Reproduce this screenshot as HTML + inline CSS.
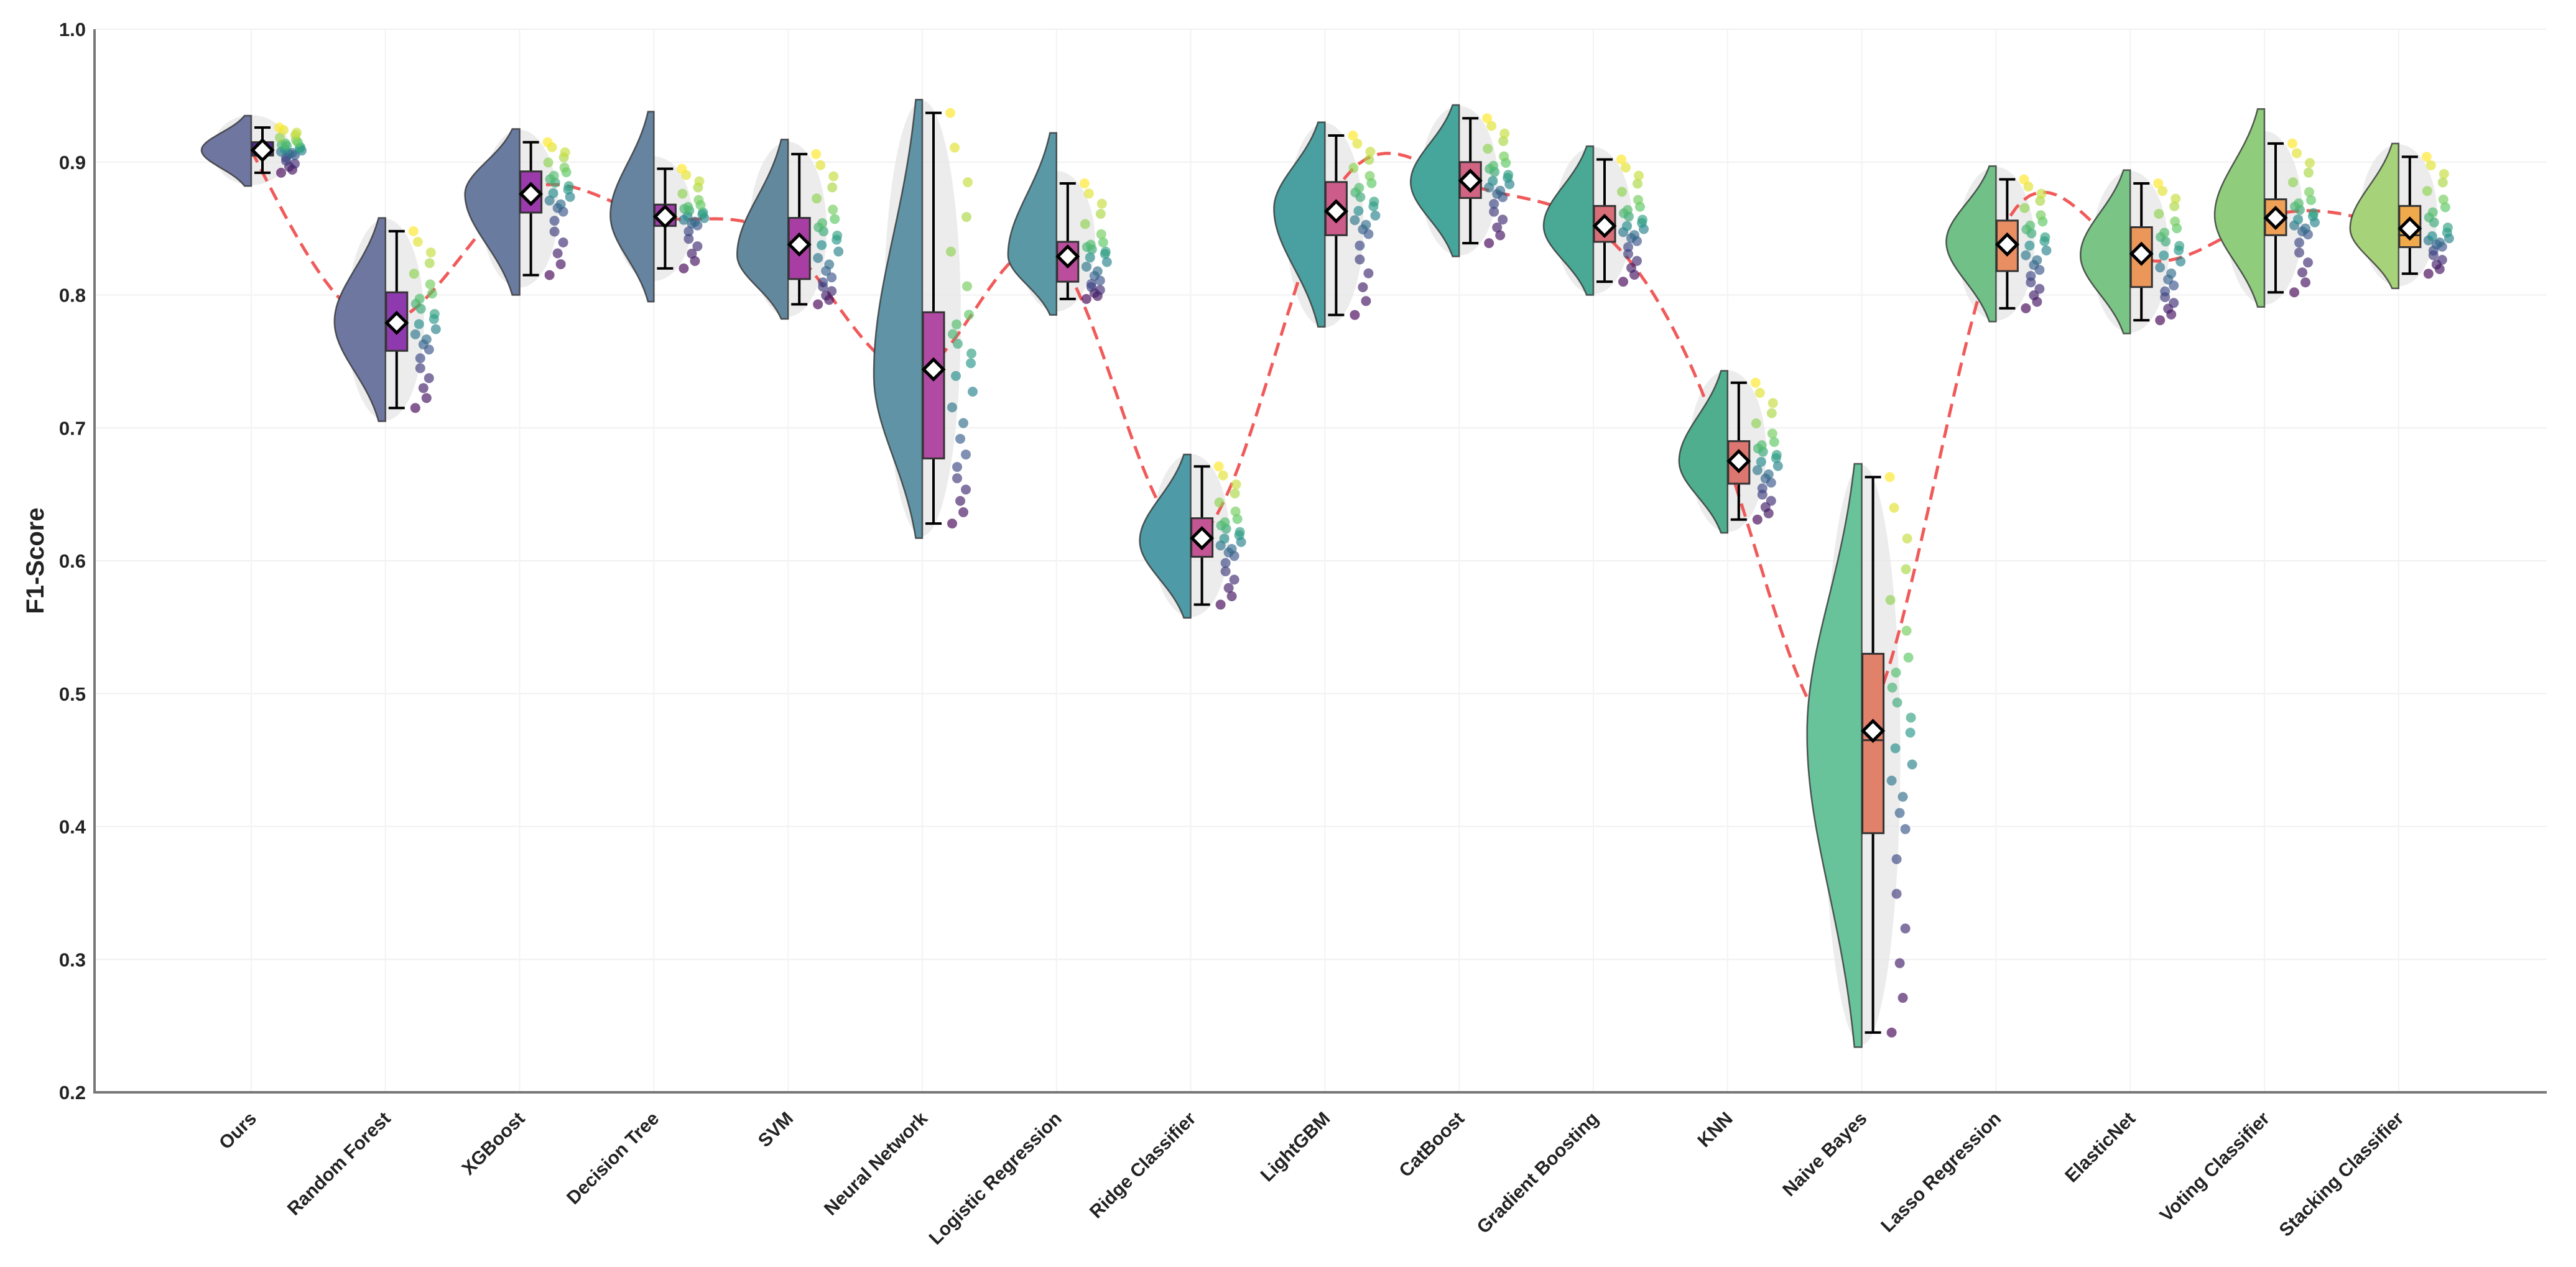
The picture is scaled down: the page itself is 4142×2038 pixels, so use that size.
<!DOCTYPE html>
<html><head><meta charset="utf-8"><style>
body{margin:0;background:#fff}
svg{display:block}
text{font-family:"Liberation Sans","DejaVu Sans",sans-serif;font-weight:bold;fill:#222}
</style></head><body>
<svg id="chart" width="4142" height="2038" viewBox="0 0 4142 2038" xmlns="http://www.w3.org/2000/svg"></svg>
<script>
const categories=["Ours","Random Forest","XGBoost","Decision Tree","SVM","Neural Network","Logistic Regression","Ridge Classifier","LightGBM","CatBoost","Gradient Boosting","KNN","Naive Bayes","Lasso Regression","ElasticNet","Voting Classifier","Stacking Classifier"];
const means=[0.909,0.779,0.876,0.859,0.838,0.744,0.829,0.617,0.863,0.886,0.852,0.675,0.472,0.838,0.831,0.858,0.850];
const medians=[0.910,0.780,0.878,0.860,0.840,0.745,0.830,0.618,0.865,0.887,0.853,0.676,0.465,0.839,0.832,0.858,0.845];
const q1s=[0.905,0.758,0.862,0.852,0.812,0.677,0.810,0.603,0.845,0.873,0.840,0.658,0.395,0.818,0.806,0.845,0.836];
const q3s=[0.915,0.802,0.893,0.868,0.858,0.787,0.840,0.632,0.885,0.900,0.867,0.690,0.530,0.856,0.851,0.872,0.867];
const whiskLo=[0.892,0.715,0.815,0.820,0.793,0.628,0.797,0.567,0.785,0.839,0.810,0.631,0.245,0.790,0.781,0.802,0.816];
const whiskHi=[0.926,0.848,0.915,0.895,0.906,0.937,0.884,0.671,0.920,0.933,0.902,0.734,0.663,0.887,0.884,0.914,0.904];
const violinMin=[0.882,0.705,0.800,0.795,0.782,0.617,0.785,0.557,0.776,0.829,0.800,0.621,0.234,0.780,0.771,0.791,0.805];
const violinMax=[0.935,0.858,0.925,0.938,0.917,0.947,0.922,0.680,0.930,0.943,0.912,0.743,0.673,0.897,0.894,0.940,0.914];
const violinPeak=[0.909,0.780,0.876,0.860,0.830,0.740,0.830,0.615,0.865,0.885,0.852,0.675,0.470,0.840,0.830,0.860,0.850];
const violinWidth=[80,82,88,70,82,78,78,82,82,78,80,78,88,80,80,80,78];
const yTicks=[0.2,0.3,0.4,0.5,0.6,0.7,0.8,0.9,1.0];
const violinColors=["#6f76a0","#6e77a0","#6a7ba0","#6683a0","#62889e","#5f93a5","#5a98a6","#4e9aa6","#4a9fa0","#46a69c","#4aa994","#4eae8e","#68c29a","#70c088","#7ac485","#8fcc7c","#a6d27a"];
const boxColors=["#5a2a9a","#8e3aae","#9b3aaa","#9f3da9","#a83ea4","#b14aa2","#bb4e9c","#c45594","#cc5c8a","#d06482","#d86e78","#dc7670","#e2816a","#e88e62","#eb975a","#eea056","#f0aa4c"];

const L=152,R=4095,T=47,B=1757;
const x0=404,dx=215.8;
const X=i=>x0+i*dx;
const Y=v=>T+(1-v)/0.8*(B-T);
const svg=document.getElementById('chart');
const NS='http://www.w3.org/2000/svg';
function mk(tag,attrs,parent){const e=document.createElementNS(NS,tag);for(const k in attrs)e.setAttribute(k,attrs[k]);(parent||svg).appendChild(e);return e;}
function viridis(t){const s=[[68,1,84],[59,82,139],[33,145,140],[94,201,98],[253,231,37]];t=Math.max(0,Math.min(1,t))*4;const i=Math.min(3,Math.floor(t)),f=t-i;const c=s[i].map((a,k)=>Math.round(a+(s[i+1][k]-a)*f));return `rgb(${c})`;}

yTicks.forEach(v=>{const g=mk('line',{x1:L,x2:R,y1:Y(v),y2:Y(v),stroke:'#f0f0f0','stroke-width':2});
});
categories.forEach((c,i)=>{const g=mk('line',{x1:X(i),x2:X(i),y1:T,y2:B,stroke:'#f3f3f3','stroke-width':2});
});

categories.forEach((c,i)=>{const cy=Y((whiskHi[i]+whiskLo[i])/2),ry=(Y(whiskLo[i])-Y(whiskHi[i]))/2+20;
const e=mk('ellipse',{cx:X(i),cy:cy,rx:62,ry:ry,fill:'#e6e6e6','fill-opacity':0.75});
});

// natural cubic spline through means
(function(){const n=means.length,ys=means.map(Y),h=dx;
const a=new Array(n).fill(0),b=new Array(n).fill(0),c=new Array(n).fill(0),d=new Array(n).fill(0),M=new Array(n).fill(0);
for(let i=1;i<n-1;i++){a[i]=1;b[i]=4;c[i]=1;d[i]=6*(ys[i+1]-2*ys[i]+ys[i-1])/(h*h);}
const cp=new Array(n).fill(0),dp=new Array(n).fill(0);
for(let i=1;i<n-1;i++){const den=b[i]-a[i]*cp[i-1];cp[i]=c[i]/den;dp[i]=(d[i]-a[i]*dp[i-1])/den;}
for(let i=n-2;i>=1;i--){M[i]=dp[i]-cp[i]*M[i+1];}
let dd='';
for(let i=0;i<n-1;i++){for(let s=0;s<=20;s++){if(i>0&&s===0)continue;const t=s/20*h,A=(h-t)/h,Bq=t/h;
const y=A*ys[i]+Bq*ys[i+1]+((A*A*A-A)*M[i]+(Bq*Bq*Bq-Bq)*M[i+1])*h*h/6;
dd+=(dd?' L':'M')+(X(i)+t).toFixed(1)+','+y.toFixed(1);}}
const l=mk('path',{d:dd,fill:'none',stroke:'#f04848','stroke-opacity':0.9,'stroke-width':5,'stroke-dasharray':'22,12'});
})();

categories.forEach((c,i)=>{
  const cx=X(i);
  const g=mk('g',{});
  
  
  const n=60;let pts=[];
  for(let k=0;k<=n;k++){const v=violinMax[i]-(violinMax[i]-violinMin[i])*k/n;
    const s=(v>violinPeak[i]?(violinMax[i]-violinPeak[i]):(violinPeak[i]-violinMin[i]))/2.0||0.01;
    const w=violinWidth[i]*Math.exp(-0.5*Math.pow((v-violinPeak[i])/s,2));
    pts.push(`${cx-w},${Y(v)}`);}
  const vp=mk('path',{d:`M${cx},${Y(violinMax[i])} L${pts.join(' L')} L${cx},${Y(violinMin[i])} Z`,fill:violinColors[i],stroke:'#333','stroke-width':2.5,'stroke-opacity':0.8},g);
  
  const qs=[whiskLo[i],q1s[i],medians[i],q3s[i],whiskHi[i]];
  for(let k=0;k<24;k++){const t=k/23*4,j=Math.min(3,Math.floor(t)),f=t-j;const v=qs[j]+(qs[j+1]-qs[j])*f;
    const jx=cx+45+((k*k*7+k*11+3)%37);
    const pt=mk('circle',{cx:jx,cy:Y(v),r:8,fill:viridis(k/23),'fill-opacity':0.65},g);
    }
  const wx=cx+18;
  const wl=mk('line',{x1:wx,x2:wx,y1:Y(whiskHi[i]),y2:Y(whiskLo[i]),stroke:'#000','stroke-width':4},g);
  
  [whiskHi[i],whiskLo[i]].forEach(v=>{const cap=mk('line',{x1:wx-13,x2:wx+13,y1:Y(v),y2:Y(v),stroke:'#000','stroke-width':4},g);
    });
  const bx=mk('rect',{x:cx+1,y:Y(q3s[i]),width:34,height:Y(q1s[i])-Y(q3s[i]),fill:boxColors[i],stroke:'#333','stroke-width':3},g);
  
  const md=mk('line',{x1:cx+1,x2:cx+35,y1:Y(medians[i]),y2:Y(medians[i]),stroke:'#333','stroke-width':3},g);
  
  const my=Y(means[i]);
  const dm=mk('path',{d:`M${wx-16},${my} L${wx},${my-16} L${wx+16},${my} L${wx},${my+16} Z`,fill:'#fff',stroke:'#000','stroke-width':5},g);
  
  const tl=mk('text',{x:0,y:0,'font-size':30,'text-anchor':'end',transform:`translate(${cx+10},${B+44}) rotate(-45)`});
  tl.textContent=c;
  
});

const ax=mk('path',{d:`M${L},${T} L${L},${B} L${R},${B}`,fill:'none',stroke:'#777','stroke-width':4});

yTicks.forEach(v=>{const t=mk('text',{x:L-14,y:Y(v)+11,'font-size':31,'text-anchor':'end'});t.textContent=v.toFixed(1);
});
const yt=mk('text',{x:0,y:0,'font-size':40,'text-anchor':'middle',transform:`translate(70,${(T+B)/2}) rotate(-90)`});
yt.textContent='F1-Score';

</script>
</body></html>
